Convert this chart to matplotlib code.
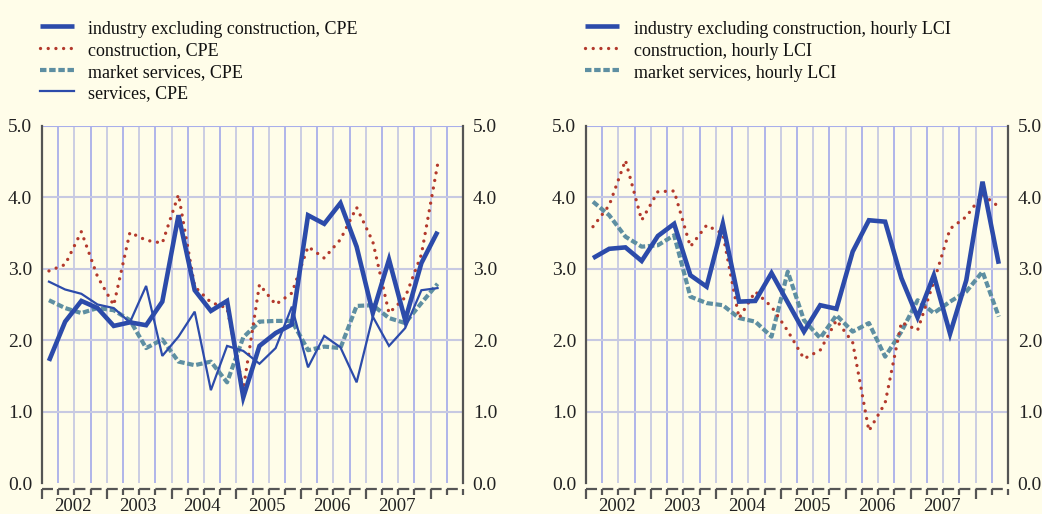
import matplotlib
matplotlib.use("Agg")
import matplotlib.pyplot as plt
from matplotlib.lines import Line2D
import numpy as np

plt.rcParams['font.family'] = ['Liberation Serif', 'DejaVu Serif']

# ---------------- data ----------------
years = ["2002", "2003", "2004", "2005", "2006", "2007"]
ylabels = ["0.0", "1.0", "2.0", "3.0", "4.0", "5.0"]

left_labels = ["industry excluding construction, CPE", "construction, CPE",
               "market services, CPE", "services, CPE"]
right_labels = ["industry excluding construction, hourly LCI",
                "construction, hourly LCI", "market services, hourly LCI"]

# quarterly values, 2002Q1 ... 2008Q1 (left), 2002Q1 ... 2008Q2 (right)
cpe_industry = [1.71, 2.26, 2.55, 2.45, 2.20, 2.25, 2.21, 2.54, 3.75, 2.70,
                2.41, 2.55, 1.20, 1.92, 2.10, 2.22, 3.75, 3.63, 3.92, 3.31,
                2.38, 3.13, 2.28, 3.08, 3.52]
cpe_construction = [2.97, 3.06, 3.52, 2.89, 2.49, 3.51, 3.40, 3.36, 4.04, 2.75,
                    2.53, 2.45, 1.31, 2.78, 2.50, 2.66, 3.31, 3.15, 3.41, 3.86,
                    3.38, 2.38, 2.60, 3.20, 4.46]
cpe_market = [2.56, 2.45, 2.38, 2.45, 2.42, 2.28, 1.89, 2.01, 1.70, 1.65,
              1.70, 1.41, 2.04, 2.26, 2.27, 2.27, 1.86, 1.91, 1.89, 2.48,
              2.49, 2.31, 2.24, 2.52, 2.79]
cpe_services = [2.82, 2.71, 2.65, 2.50, 2.45, 2.25, 2.76, 1.78, 2.05, 2.40,
                1.30, 1.92, 1.85, 1.67, 1.89, 2.47, 1.62, 2.06, 1.90, 1.41,
                2.33, 1.92, 2.17, 2.70, 2.73]

lci_industry = [3.15, 3.28, 3.30, 3.11, 3.46, 3.63, 2.91, 2.75, 3.63, 2.54,
                2.55, 2.94, 2.53, 2.12, 2.49, 2.44, 3.24, 3.68, 3.66, 2.87,
                2.32, 2.91, 2.09, 2.84, 4.22, 3.07]
lci_construction = [3.59, 3.89, 4.52, 3.68, 4.08, 4.09, 3.31, 3.61, 3.49, 2.31,
                    2.68, 2.47, 2.13, 1.74, 1.86, 2.28, 1.97, 0.73, 1.12, 2.25,
                    2.14, 2.82, 3.56, 3.73, 4.04, 3.87]
lci_market = [3.94, 3.75, 3.45, 3.31, 3.33, 3.47, 2.61, 2.52, 2.49, 2.31,
              2.26, 2.05, 2.96, 2.28, 2.03, 2.35, 2.12, 2.24, 1.77, 2.12,
              2.56, 2.38, 2.54, 2.68, 2.96, 2.33]

# ---------------- style ----------------
BG = "#FFFDE9"
BLUE = "#2C4BAA"
RED = "#B3392C"
TEAL = "#5E8FA2"
AXC = "#555555"
GRID_B = "#A9AFEA"
GRID_G = "#C7C9E2"

FS = 13
FS_T = 14

fig = plt.figure(figsize=(10.42, 5.14), dpi=100, facecolor=BG)
W, H = 1042.0, 514.0

def px_ax(l, r, t, b):
    return fig.add_axes([l / W, 1 - b / H, (r - l) / W, (b - t) / H])

ax1 = px_ax(42, 463, 126, 483)
ax2 = px_ax(586, 1008, 126, 483)

styles = {
    'thick': dict(color=BLUE, lw=3.3, solid_joinstyle='miter', solid_capstyle='butt'),
    'dot': dict(color=RED, lw=2.4, linestyle=(0, (0.01, 2.3)), dash_capstyle='round'),
    'dash': dict(color=TEAL, lw=3.0, linestyle=(0, (1.55, 0.65)), dash_capstyle='butt'),
    'thin': dict(color=BLUE, lw=1.6, solid_joinstyle='miter'),
}

def setup(ax):
    ax.set_facecolor(BG)
    ax.set_xlim(0, 26)
    ax.set_ylim(0, 5)
    for i in range(1, 26):
        ax.axvline(i, color=GRID_B if i % 2 else GRID_G, lw=1.3, zorder=0)
    for v in range(1, 6):
        ax.axhline(v, color=GRID_G if v < 5 else GRID_B, lw=1.5, zorder=0)
    ax.spines['top'].set_visible(False)
    for s in ('left', 'right'):
        ax.spines[s].set_color(AXC)
        ax.spines[s].set_linewidth(1.6)
    sb = ax.spines['bottom']
    sb.set_position(('outward', 4))
    sb.set_color(AXC)
    sb.set_linewidth(1.6)
    per = ax.bbox.width / 26 * 72 / 100 / 1.6
    sb.set_linestyle((0, (per * 0.68, per * 0.32)))
    sb.set_capstyle('butt')
    ax.set_yticks(range(6))
    ax.set_yticklabels(ylabels)
    ax.tick_params(axis='y', which='both', length=0, labelsize=FS_T, pad=7,
                   left=False, right=False, labelleft=True, labelright=True,
                   labelcolor='#222222')
    ax.set_xticks(range(0, 27, 4))
    ax.set_xticks(range(27), minor=True)
    ax.set_xticklabels([])
    ax.tick_params(axis='x', which='major', length=7, width=1.6, color=AXC, direction='out')
    ax.tick_params(axis='x', which='minor', length=4, width=1.6, color=AXC, direction='out')
    for k, yr in enumerate(years):
        ax.text(2 + 4 * k - 0.1, -0.042, yr, transform=ax.get_xaxis_transform(),
                ha='center', va='top', fontsize=13.5, color='#222222')

setup(ax1)
setup(ax2)

x1 = np.arange(len(cpe_industry)) + 0.43
x2 = np.arange(len(lci_industry)) + 0.43

ax1.plot(x1, cpe_market, **styles['dash'], zorder=3)
ax1.plot(x1, cpe_construction, **styles['dot'], zorder=4)
ax1.plot(x1, cpe_services, **styles['thin'], zorder=5)
ax1.plot(x1, cpe_industry, **styles['thick'], zorder=6)

ax2.plot(x2, lci_market, **styles['dash'], zorder=3)
ax2.plot(x2, lci_construction, **styles['dot'], zorder=4)
ax2.plot(x2, lci_industry, **styles['thick'], zorder=6)

# legends (manual, figure pixel positions)
def legend(x0, x1_, xt, rows, labels, keys):
    for y, lab, key in zip(rows, labels, keys):
        st = dict(styles[key])
        fig.add_artist(Line2D([x0 / W, x1_ / W], [1 - y / H, 1 - y / H],
                              transform=fig.transFigure, **st))
        fig.text(xt / W, 1 - (y + 1) / H, lab, ha='left', va='center_baseline',
                 fontsize=FS, color='#111111')

legend(40, 74, 88, [26, 48, 70, 91], left_labels, ['thick', 'dot', 'dash', 'thin'])
legend(585, 619, 634, [26, 48, 70], right_labels, ['thick', 'dot', 'dash'])

fig.savefig("out.png", dpi=100, facecolor=BG)
